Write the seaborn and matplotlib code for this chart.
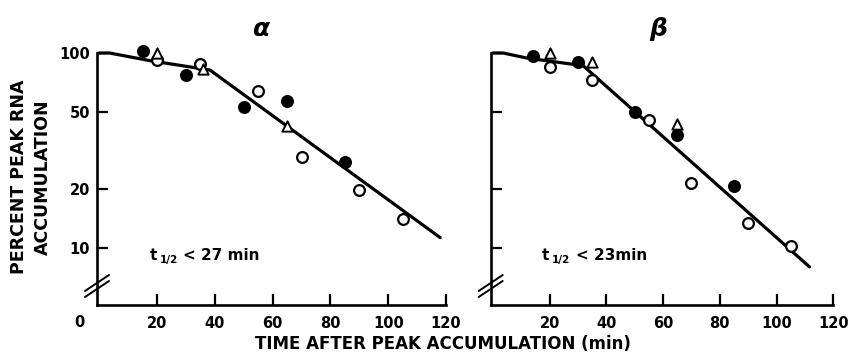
import matplotlib
matplotlib.use("Agg")
import matplotlib.pyplot as plt
import seaborn as sns
import numpy as np

sns.set_theme(style="ticks")
plt.rcParams['font.family'] = ['DejaVu Sans']
plt.rcParams['font.weight'] = 'bold'
plt.rcParams['text.color'] = 'black'
plt.rcParams['axes.labelcolor'] = 'black'
plt.rcParams['xtick.color'] = 'black'
plt.rcParams['ytick.color'] = 'black'

# ---------------- data ----------------
panel_titles = ["α", "β"]
half_lives = ["27 min", "23min"]

# alpha panel
a_filled_x = [15, 30, 50, 65, 85]
a_filled_y = [103, 77, 53, 56.7, 27.5]
a_open_x = [20, 35, 55, 70, 90, 105]
a_open_y = [92, 87.8, 63.9, 29.2, 19.8, 14.1]
a_tri_x = [20, 36, 65]
a_tri_y = [100, 82.5, 42.2]
a_fit_x = [0, 3.6, 17.7, 38.3, 118]
a_fit_y = [100, 100, 91.3, 81.8, 11.3]

# beta panel
b_filled_x = [14, 30, 50, 65, 85]
b_filled_y = [96, 89.5, 50, 38.1, 20.9]
b_open_x = [20, 35, 55, 70, 90, 105]
b_open_y = [84.3, 73, 45.5, 21.5, 13.5, 10.2]
b_tri_x = [20, 35, 65]
b_tri_y = [100, 90, 43.4]
b_fit_x = [0, 3.6, 11.9, 31.8, 111.6]
b_fit_y = [100, 100, 94.3, 86.1, 8.0]

x_ticks = [20, 40, 60, 80, 100, 120]
y_ticks = [10, 20, 50, 100]
y_ticklabels = ["10", "20", "50", "100"]

panels = [
    dict(fx=a_filled_x, fy=a_filled_y, ox=a_open_x, oy=a_open_y,
         tx=a_tri_x, ty=a_tri_y, lx=a_fit_x, ly=a_fit_y),
    dict(fx=b_filled_x, fy=b_filled_y, ox=b_open_x, oy=b_open_y,
         tx=b_tri_x, ty=b_tri_y, lx=b_fit_x, ly=b_fit_y),
]

# ---------------- figure ----------------
W, H = 848, 362
fig = plt.figure(figsize=(W / 100, H / 100), dpi=100)
fig.patch.set_facecolor("white")

ylo, yhi = 5.1, 115
axes_px = [(97, 446), (490.7, 833.3)]
bottom_px, top_px = 305, 41.2
ann_x = [17.3, 17.2]

for i, (p, (x0, x1)) in enumerate(zip(panels, axes_px)):
    ax = fig.add_axes([x0 / W, 1 - bottom_px / H, (x1 - x0) / W, (bottom_px - top_px) / H])
    ax.set_facecolor("white")
    ax.set_yscale("log")
    ax.set_xlim(-0.8, 120)
    ax.set_ylim(ylo, yhi)

    sns.lineplot(x=p["lx"], y=p["ly"], ax=ax, color="black", lw=2.3, sort=False,
                 zorder=2)
    sns.scatterplot(x=p["fx"], y=p["fy"], ax=ax, color="black", edgecolor="black",
                    s=70, marker="o", linewidth=1.0, zorder=3, clip_on=False)
    sns.scatterplot(x=p["ox"], y=p["oy"], ax=ax, color="white", edgecolor="black",
                    s=60, marker="o", linewidth=1.6, zorder=3, clip_on=False)
    sns.scatterplot(x=p["tx"], y=p["ty"], ax=ax, color="white", edgecolor="black",
                    s=55, marker="^", linewidth=1.4, zorder=3, clip_on=False)

    for s in ["top", "right"]:
        ax.spines[s].set_visible(False)
    for s in ["left", "bottom"]:
        ax.spines[s].set_linewidth(1.9)
        ax.spines[s].set_color("black")
    ax.spines["left"].set_bounds(ylo, 100)

    ax.minorticks_off()
    ax.set_xticks(x_ticks)
    ax.set_xticklabels([str(t) for t in x_ticks])
    ax.set_yticks(y_ticks)
    if i == 0:
        ax.set_yticklabels(y_ticklabels)
        ax.annotate("0", xy=(0, 0), xycoords=("data", "axes fraction"),
                    xytext=(-14, -12.5), textcoords="offset points",
                    ha="center", va="center", fontsize=10.5, fontweight="bold",
                    color="black")
    else:
        ax.set_yticklabels([])
    ax.minorticks_off()
    ax.tick_params(axis="both", direction="in", length=8, width=1.6, color="black",
                   labelsize=10.5, pad=5, labelcolor="black")
    ax.tick_params(axis="x", pad=8)
    for lab in ax.get_xticklabels() + ax.get_yticklabels():
        lab.set_fontweight("bold")

    ax.set_xlabel("")
    ax.set_ylabel("")

    # title
    ax.text(0.47 if i == 0 else 0.49, 1.0, panel_titles[i], transform=ax.transAxes,
            ha="center", va="bottom", fontsize=18, fontstyle="italic",
            fontweight="bold", color="black")

    # half-life annotation: t, subscript 1/2, remainder
    ty = 9.2
    ax.annotate("t", xy=(ann_x[i], ty), xytext=(0, 0), textcoords="offset points",
                ha="left", va="center", fontsize=11, fontweight="bold", color="black")
    ax.annotate("1/2", xy=(ann_x[i], ty), xytext=(7.5, -3.5), textcoords="offset points",
                ha="left", va="center", fontsize=7.5, fontweight="bold", color="black")
    ax.annotate("< " + half_lives[i], xy=(ann_x[i], ty), xytext=(24.5, 0),
                textcoords="offset points", ha="left", va="center",
                fontsize=11, fontweight="bold", color="black")

    # axis break marks
    wpx = x1 - x0
    hpx = bottom_px - top_px
    ycen = (bottom_px - 286) / hpx
    for off in (-3, 3):
        xs = [-12 / wpx, 12 / wpx]
        ys = [ycen + (off - 8) / hpx, ycen + (off + 8) / hpx]
        ax.plot(xs, ys, transform=ax.transAxes, color="black", lw=1.4,
                clip_on=False, zorder=4)

fig.text(443 / W, 1 - 344 / H, "TIME AFTER PEAK ACCUMULATION (min)",
         ha="center", va="center", fontsize=12, fontweight="bold", color="black")
fig.text(31 / W, 1 - 177 / H, "PERCENT PEAK RNA\nACCUMULATION",
         ha="center", va="center", rotation=90, fontsize=12.5, fontweight="bold",
         linespacing=1.4, color="black")

fig.savefig("out.png", dpi=100, facecolor="white")
